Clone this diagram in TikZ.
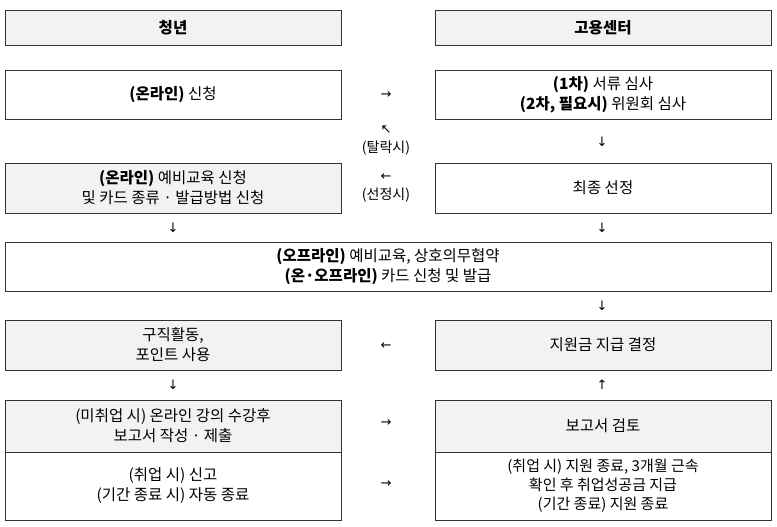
\documentclass[tikz,border=0pt]{standalone}
\usepackage{fontspec}
\setmainfont{Noto Sans CJK KR}
\newfontfamily\arrowfont{DejaVu Sans}
\definecolor{boxgray}{HTML}{F2F2F2}
\begin{document}
\begin{tikzpicture}[x=1pt,y=-1pt,
  bx/.style={draw=black!80,line width=0.8pt},
  gb/.style={bx,fill=boxgray},
  tx/.style={align=center,font=\fontsize{15.5}{20}\selectfont},
  arr/.style={font=\arrowfont\fontsize{13}{13}\selectfont},
  lbl/.style={font=\fontsize{14}{16}\selectfont}]
\useasboundingbox (0,0) rectangle (777,527);
% headers
\draw[gb] (5,10) rectangle (341,45); \node[tx,font=\bfseries\fontsize{15.5}{20}\selectfont] (h1) at (173,27.5) {청년};
\draw[gb] (435,10) rectangle (771,45); \node[tx,font=\bfseries\fontsize{15.5}{20}\selectfont] (h2) at (603,27.5) {고용센터};
% row1
\draw[bx] (5,70) rectangle (341,119); \node[tx] (a1) at (173,94.5) {\textbf{(온라인)} 신청};
\draw[bx] (435,70) rectangle (771,119); \node[tx] (b1) at (603,94.5) {\textbf{(1차)} 서류 심사\\\textbf{(2차, 필요시)} 위원회 심사};
% row2
\draw[gb] (5,163) rectangle (341,213); \node[tx] (a2) at (173,188) {\textbf{(온라인)} 예비교육 신청\\및 카드 종류 · 발급방법 신청};
\draw[bx] (435,163) rectangle (771,213); \node[tx] (b2) at (603,188) {최종 선정};
% full
\draw[bx] (5,242) rectangle (771,291); \node[tx] (c) at (388,266.5) {\textbf{(오프라인)} 예비교육, 상호의무협약\\\textbf{(온·오프라인)} 카드 신청 및 발급};
% row3
\draw[gb] (5,320) rectangle (341,370); \node[tx] (a3) at (173,345) {구직활동,\\포인트 사용};
\draw[gb] (435,320) rectangle (771,370); \node[tx] (b3) at (603,345) {지원금 지급 결정};
% row4
\draw[gb] (5,400) rectangle (341,452); \node[tx] (a4) at (173,426) {(미취업 시) 온라인 강의 수강후\\보고서 작성 · 제출};
\draw[gb] (435,400) rectangle (771,452); \node[tx] (b4) at (603,426) {보고서 검토};
% row5
\draw[bx] (5,452) rectangle (341,520); \node[tx] (a5) at (173,486) {(취업 시) 신고\\(기간 종료 시) 자동 종료};
\draw[bx] (435,452) rectangle (771,520); \node[tx,font=\fontsize{15}{19}\selectfont] (b5) at (603,486) {(취업 시) 지원 종료, 3개월 근속\\확인 후 취업성공금 지급\\(기간 종료) 지원 종료};
% arrows (text glyphs)
\node[arr] (r1) at (386,95) {→};
\node[arr] (r2) at (386,130) {↖};
\node[lbl] (l1) at (386,148) {(탈락시)};
\node[arr] (r3) at (386,177) {←};
\node[lbl] (l2) at (386,195) {(선정시)};
\node[arr] (d1) at (602,142) {↓};
\node[arr] (d2) at (173,228) {↓};
\node[arr] (d3) at (602,228) {↓};
\node[arr] (d4) at (602,306) {↓};
\node[arr] (r4) at (386,346) {←};
\node[arr] (d5) at (173,385) {↓};
\node[arr] (u1) at (602,385) {↑};
\node[arr] (r5) at (386,423) {→};
\node[arr] (r6) at (386,484) {→};
\end{tikzpicture}
\end{document}
